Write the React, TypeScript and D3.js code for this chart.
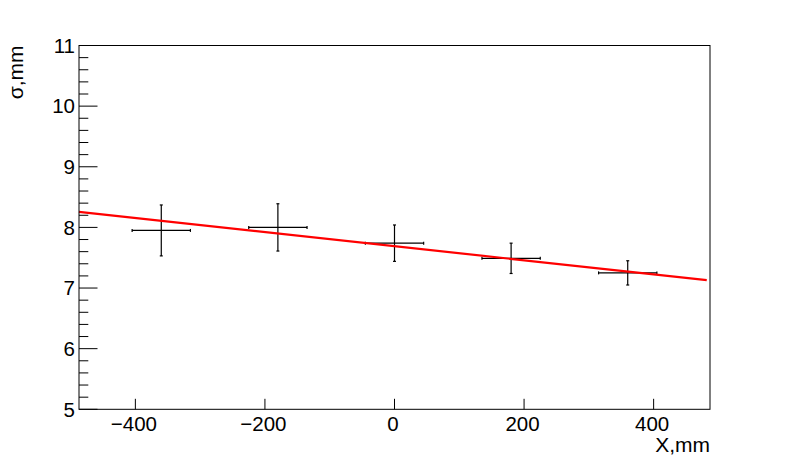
import React from "react";
import * as d3 from "d3";

const xCenters = [-360, -180, 0, 180, 360];
const yValues = [7.95, 8.0, 7.74, 7.49, 7.25];
const xErrors = [45, 45, 45, 45, 45];
const yErrors = [0.42, 0.39, 0.3, 0.25, 0.2];
const fitIntercept = 7.69;
const fitSlope = -0.00116;
const fitRange = [-487, 482];
const xTicks = [-400, -200, 0, 200, 400];
const yTicks = [5, 6, 7, 8, 9, 10, 11];
const xDomain = [-487, 487];
const yDomain = [5, 11];
const xTitle = "X,mm";
const yTitle = "σ,mm";

const W = 789;
const H = 455;
const left = 79;
const right = 710;
const top = 45.5;
const bottom = 409.3;
const font = "'Liberation Sans', Arial, Helvetica, sans-serif";

export default function App() {
  const x = d3.scaleLinear().domain(xDomain).range([left, right]);
  const y = d3.scaleLinear().domain(yDomain).range([bottom, top]);

  const minorY: number[] = [];
  for (let v = yDomain[0]; v <= yDomain[1] + 1e-9; v += 0.2) {
    const r = Math.round(v * 10) / 10;
    if (Math.abs(r - Math.round(r)) > 1e-6) minorY.push(r);
  }

  const fitLine = d3
    .line<number>()
    .x((d) => x(d))
    .y((d) => y(fitIntercept + fitSlope * d));

  const cap = 1.5;

  return (
    <div style={{ position: "absolute", left: 0, top: 0 }}>
      <svg width={W} height={H} style={{ display: "block", background: "#fff" }}>
        <rect x={0} y={0} width={W} height={H} fill="#fff" />
        {xCenters.map((xc, i) => {
          const cx = x(xc);
          const cy = y(yValues[i]);
          const x0 = x(xc - xErrors[i]);
          const x1 = x(xc + xErrors[i]);
          const y0 = y(yValues[i] + yErrors[i]);
          const y1 = y(yValues[i] - yErrors[i]);
          return (
            <g key={i} stroke="#000" strokeWidth={1.2} fill="none">
              <line x1={x0} x2={x1} y1={cy} y2={cy} />
              <line x1={cx} x2={cx} y1={y0} y2={y1} />
              <line x1={x0} x2={x0} y1={cy - cap} y2={cy + cap} />
              <line x1={x1} x2={x1} y1={cy - cap} y2={cy + cap} />
              <line x1={cx - cap} x2={cx + cap} y1={y0} y2={y0} />
              <line x1={cx - cap} x2={cx + cap} y1={y1} y2={y1} />
            </g>
          );
        })}
        <path d={fitLine(fitRange) || ""} stroke="#ff0000" strokeWidth={2.2} fill="none" />
        <rect x={left} y={top} width={right - left} height={bottom - top} fill="none" stroke="#000" strokeWidth={1} />
        {yTicks.map((t) => (
          <g key={"y" + t}>
            <line x1={left} x2={left + 18.5} y1={y(t)} y2={y(t)} stroke="#000" strokeWidth={1} />
            <text x={75} y={y(t) + 7.3} textAnchor="end" fontFamily={font} fontSize={20.5} fill="#000">
              {t}
            </text>
          </g>
        ))}
        {minorY.map((t) => (
          <line key={"ym" + t} x1={left} x2={left + 9.3} y1={y(t)} y2={y(t)} stroke="#000" strokeWidth={1} />
        ))}
        {xTicks.map((t) => (
          <g key={"x" + t}>
            <line x1={x(t)} x2={x(t)} y1={bottom} y2={bottom - 10.5} stroke="#000" strokeWidth={1} />
            <text x={x(t) - 1.5} y={430.5} textAnchor="middle" fontFamily={font} fontSize={20.5} fill="#000">
              {t < 0 ? "\u2212" + Math.abs(t) : String(t)}
            </text>
          </g>
        ))}
        <text x={right} y={451.5} textAnchor="end" fontFamily={font} fontSize={21} fill="#000">
          {xTitle}
        </text>
        <text
          transform={`translate(23,${top}) rotate(-90)`}
          textAnchor="end"
          fontFamily={font}
          fontSize={21}
          fill="#000"
        >
          {yTitle}
        </text>
      </svg>
    </div>
  );
}
